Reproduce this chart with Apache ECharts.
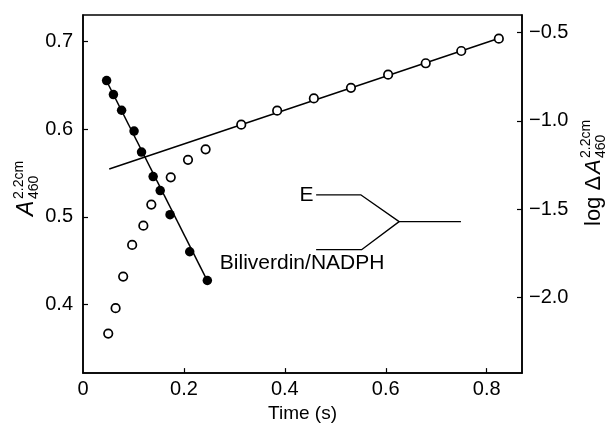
<!DOCTYPE html>
<html>
<head>
<meta charset="utf-8">
<script src="https://cdn.jsdelivr.net/npm/echarts@6/dist/echarts.min.js"></script>
<style>
  html, body { margin: 0; padding: 0; background: #fff; }
  #chart { width: 611px; height: 428px; }
</style>
</head>
<body>
<div id="chart"></div>
<script>
// absorbance at 460 nm (left axis), open circles
const openTime = [0.050, 0.0646, 0.0796, 0.0974, 0.1196, 0.1354, 0.1739, 0.2081, 0.243,
  0.3136, 0.3848, 0.4575, 0.531, 0.6047, 0.6792, 0.7496, 0.8241];
const openA460 = [0.367, 0.396, 0.432, 0.468, 0.490, 0.514, 0.545, 0.565, 0.577,
  0.605, 0.621, 0.635, 0.647, 0.662, 0.675, 0.689, 0.703];

// log dA (right axis), filled circles
const filledTime = [0.0468, 0.0603, 0.0765, 0.1012, 0.116, 0.139, 0.153, 0.1725, 0.2115, 0.2464];
const filledLogDA = [-0.772, -0.851, -0.940, -1.058, -1.177, -1.316, -1.395, -1.532, -1.742, -1.905];

// fitted lines (end points)
const slowFit = [[0.052, 0.5545], [0.832, 0.705]];
const fastFit = [[0.046, -0.77], [0.247, -1.91]];

// reaction scheme bracket (left axis units)
const schemeUpper = [[0.462, 0.525], [0.551, 0.525], [0.6265, 0.4946], [0.749, 0.4946]];
const schemeLower = [[0.462, 0.4626], [0.552, 0.4626], [0.6265, 0.4946]];
const schemeLabels = ['E', 'Biliverdin/NADPH'];

const xTicks = [0, 0.2, 0.4, 0.6, 0.8];
const leftTicks = [0.4, 0.5, 0.6, 0.7];
const rightTicks = [-2.0, -1.5, -1.0, -0.5];

const FONT = 'Liberation Sans';
const chart = echarts.init(document.getElementById('chart'));

const axisCommon = {
  axisLine: { show: true, lineStyle: { color: '#000', width: 1.5 } },
  axisTick: { show: true, inside: true, length: 5, lineStyle: { color: '#000', width: 1.2 } },
  splitLine: { show: false },
  axisLabel: { color: '#000', fontSize: 20, fontFamily: FONT }
};

const labelStyle = { color: '#000', fontSize: 21, fontFamily: FONT, opacity: 1 };

const option = {
  animation: false,
  backgroundColor: '#fff',
  grid: { left: 83, right: 89, top: 15, bottom: 43, show: true, borderColor: '#000', borderWidth: 1.5 },
  xAxis: {
    type: 'value', min: 0, max: 0.87,
    ...axisCommon,
    axisTick: { ...axisCommon.axisTick, customValues: xTicks.slice(1) },
    axisLabel: { ...axisCommon.axisLabel, customValues: xTicks, margin: 6,
      formatter: (v) => v === 0 ? '0' : v.toFixed(1) },
    name: 'Time (s)', nameLocation: 'middle', nameGap: 25,
    nameTextStyle: { color: '#000', fontSize: 19, fontFamily: FONT }
  },
  yAxis: [
    {
      type: 'value', position: 'left', min: 0.322, max: 0.73,
      ...axisCommon,
      axisTick: { ...axisCommon.axisTick, customValues: leftTicks },
      axisLabel: { ...axisCommon.axisLabel, customValues: leftTicks, margin: 10,
        formatter: (v) => v.toFixed(1) }
    },
    {
      type: 'value', position: 'right', min: -2.43, max: -0.40,
      ...axisCommon,
      axisTick: { ...axisCommon.axisTick, customValues: rightTicks },
      axisLabel: { ...axisCommon.axisLabel, customValues: rightTicks, margin: 7,
        formatter: (v) => '\u2212' + Math.abs(v).toFixed(1) }
    }
  ],
  graphic: [
    {
      type: 'group', x: 27, y: 216, rotation: Math.PI / 2,
      children: [
        { type: 'text', x: 0, y: 0, style: { text: 'A', font: 'italic 23px ' + FONT, fill: '#000', textVerticalAlign: 'middle' } },
        { type: 'text', x: 17, y: -8, style: { text: '2.2cm', font: '14px ' + FONT, fill: '#000', textVerticalAlign: 'middle' } },
        { type: 'text', x: 17, y: 7, style: { text: '460', font: '14px ' + FONT, fill: '#000', textVerticalAlign: 'middle' } }
      ]
    },
    {
      type: 'group', x: 594, y: 226, rotation: Math.PI / 2,
      children: [
        { type: 'text', x: 0, y: 0, style: { text: 'log \u0394', font: '22px ' + FONT, fill: '#000', textVerticalAlign: 'middle' } },
        { type: 'text', x: 52, y: 0, style: { text: 'A', font: 'italic 22px ' + FONT, fill: '#000', textVerticalAlign: 'middle' } },
        { type: 'text', x: 68, y: -8, style: { text: '2.2cm', font: '14px ' + FONT, fill: '#000', textVerticalAlign: 'middle' } },
        { type: 'text', x: 68, y: 7, style: { text: '460', font: '14px ' + FONT, fill: '#000', textVerticalAlign: 'middle' } }
      ]
    }
  ],
  series: [
    {
      name: 'slow fit', type: 'line', yAxisIndex: 0, data: slowFit, symbol: 'none',
      lineStyle: { color: '#000', width: 1.5 }, z: 2
    },
    {
      name: 'fast fit', type: 'line', yAxisIndex: 1, data: fastFit, symbol: 'none',
      lineStyle: { color: '#000', width: 1.5 }, z: 2
    },
    {
      name: 'A460', type: 'scatter', yAxisIndex: 0,
      data: openTime.map((t, i) => [t, openA460[i]]),
      symbol: 'circle', symbolSize: 8.5,
      itemStyle: { color: '#fff', borderColor: '#000', borderWidth: 1.7, opacity: 1 }, z: 3
    },
    {
      name: 'log dA', type: 'scatter', yAxisIndex: 1,
      data: filledTime.map((t, i) => [t, filledLogDA[i]]),
      symbol: 'circle', symbolSize: 9.5,
      itemStyle: { color: '#000', opacity: 1 }, z: 3
    },
    {
      name: 'scheme upper', type: 'line', yAxisIndex: 0, symbol: 'none', silent: true,
      lineStyle: { color: '#000', width: 1.3 }, data: schemeUpper
    },
    {
      name: 'scheme lower', type: 'line', yAxisIndex: 0, symbol: 'none', silent: true,
      lineStyle: { color: '#000', width: 1.3 }, data: schemeLower
    },
    {
      name: 'scheme labels', type: 'scatter', yAxisIndex: 0, silent: true,
      symbolSize: 1, itemStyle: { color: 'rgba(0,0,0,0)', opacity: 1 },
      data: [
        { value: schemeUpper[0], label: { show: true, position: 'left', distance: 2, formatter: schemeLabels[0], ...labelStyle } },
        { value: schemeLower[0], label: { show: true, position: 'bottom', distance: 3, offset: [-14, 0], formatter: schemeLabels[1], ...labelStyle } }
      ]
    }
  ]
};

chart.setOption(option);
</script>
</body>
</html>
